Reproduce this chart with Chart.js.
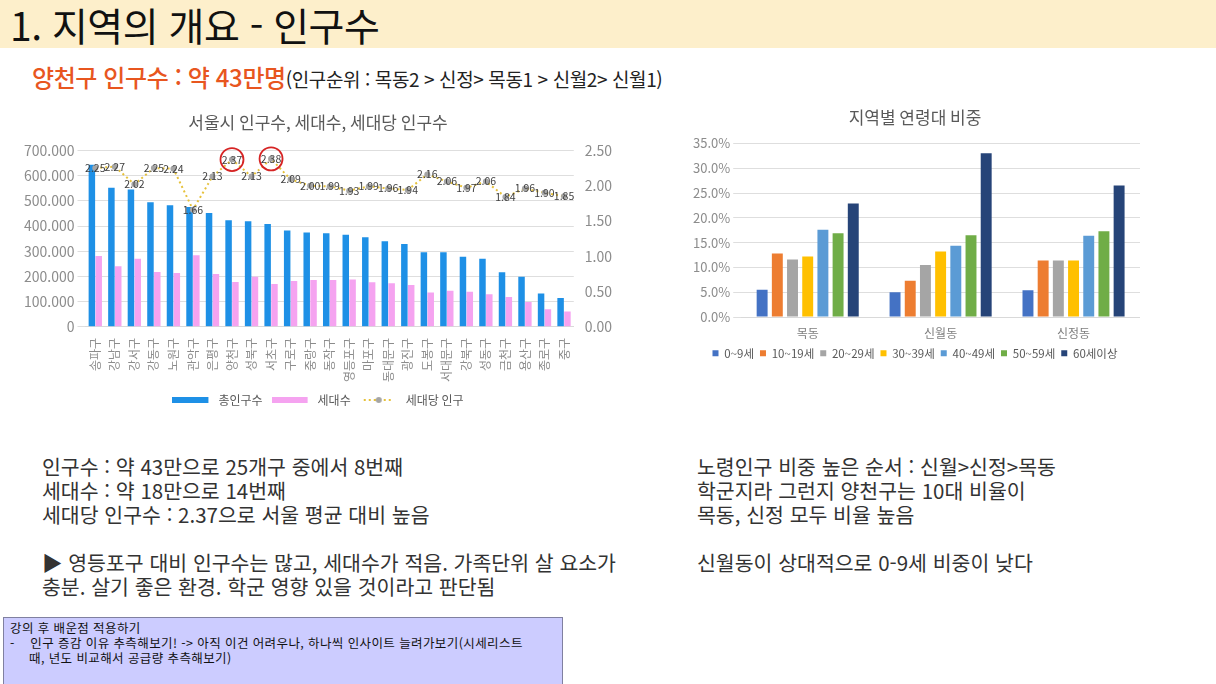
<!DOCTYPE html>
<html lang="ko">
<head>
<meta charset="utf-8">
<title>지역의 개요 - 인구수</title>
<script src="https://cdn.jsdelivr.net/npm/chart.js@4.4.1/dist/chart.umd.min.js"></script>
<style>
  html, body { margin: 0; padding: 0; background: #fff; }
  body { width: 1216px; height: 684px; position: relative; overflow: hidden;
         font-family: "Noto Sans CJK KR", "Noto Sans", sans-serif; }
  .header { position: absolute; left: 0; top: 0; width: 1216px; height: 48px; background: #fdefcb; }
  .header h1 { margin: 0; position: absolute; left: 10px; top: 0px; font-size: 39px; font-weight: 400;
               color: #111; letter-spacing: -0.5px; line-height: 48px; }
  .sub { position: absolute; left: 32px; top: 61px; white-space: nowrap; line-height: 32px; }
  .sub .big { color: #e8561f; font-size: 24px; font-weight: 500; letter-spacing: -0.4px; }
  .sub .small { color: #222; font-size: 19px; letter-spacing: -0.4px; }
  .box { position: absolute; }
  .txt { position: absolute; font-size: 20.5px; color: #333; line-height: 24px; white-space: nowrap; }
  .note { position: absolute; left: 3px; top: 617px; width: 558px; height: 70px; background: #ccccff;
          border: 1px solid #8080a0; font-size: 12.5px; color: #111; line-height: 15px; letter-spacing: 0.4px; white-space: nowrap; }
  .note p { margin: 0; }
</style>
</head>
<body>
<div class="header"><h1>1. 지역의 개요 - 인구수</h1></div>
<div class="sub"><span class="big">양천구 인구수 : 약 43만명</span><span class="small">(인구순위 : 목동2 &gt; 신정&gt; 목동1 &gt; 신월2&gt; 신월1)</span></div>

<div class="box" style="left:21px; top:112px; width:594px; height:304px;"><canvas id="seoulChart"></canvas></div>
<div class="box" style="left:690px; top:107px; width:450px; height:262px;"><canvas id="ageChart"></canvas></div>

<div class="txt" style="left:42px; top:454px;">
  인구수 : 약 43만으로 25개구 중에서 8번째<br>
  세대수 : 약 18만으로 14번째<br>
  세대당 인구수 : 2.37으로 서울 평균 대비 높음<br><br>
  ▶ 영등포구 대비 인구수는 많고, 세대수가 적음. 가족단위 살 요소가<br>
  충분. 살기 좋은 환경. 학군 영향 있을 것이라고 판단됨
</div>
<div class="txt" style="left:697px; top:454px;">
  노령인구 비중 높은 순서 : 신월&gt;신정&gt;목동<br>
  학군지라 그런지 양천구는 10대 비율이<br>
  목동, 신정 모두 비율 높음<br><br>
  신월동이 상대적으로 0-9세 비중이 낮다
</div>

<div class="note">
  <p style="padding:2px 0 0 6px;">강의 후 배운점 적용하기</p>
  <p style="padding-left:6px;">-&nbsp;&nbsp;&nbsp; 인구 증감 이유 추측해보기! -&gt; 아직 이건 어려우나, 하나씩 인사이트 늘려가보기(시세리스트</p>
  <p style="padding-left:25px;">때, 년도 비교해서 공급량 추측해보기)</p>
</div>

<script>
// 서울시 구별 인구 (인구순)
const districts = ['송파구', '강남구', '강서구', '강동구', '노원구', '관악구', '은평구', '양천구', '성북구', '서초구',
  '구로구', '중랑구', '동작구', '영등포구', '마포구', '동대문구', '광진구', '도봉구', '서대문구', '강북구',
  '성동구', '금천구', '용산구', '종로구', '중구'];
const population = [643000, 552000, 545000, 494000, 482000, 475000, 452000, 423000, 419000, 408000,
  382000, 374000, 371000, 365000, 355000, 340000, 329000, 296000, 296000, 278000,
  270000, 217000, 199000, 132000, 114000];
const households = [281000, 240000, 270000, 218000, 214000, 284000, 210000, 178000, 199000, 170000,
  182000, 186000, 186000, 188000, 177000, 173000, 166000, 136000, 143000, 139000,
  129000, 118000, 99000, 70000, 61000];
const perHousehold = [2.25, 2.27, 2.02, 2.25, 2.24, 1.66, 2.13, 2.37, 2.13, 2.38,
  2.09, 2.00, 1.99, 1.93, 1.99, 1.96, 1.94, 2.16, 2.06, 1.97,
  2.06, 1.84, 1.96, 1.90, 1.85];
const circled = [7, 9]; // 양천구, 서초구

// 지역별 연령대 비중 (%)
const dongs = ['목동', '신월동', '신정동'];
const ageGroups = ['0~9세', '10~19세', '20~29세', '30~39세', '40~49세', '50~59세', '60세이상'];
const ageShare = [
  [5.5, 5.0, 5.4],
  [12.8, 7.3, 11.4],
  [11.6, 10.5, 11.4],
  [12.2, 13.2, 11.4],
  [17.6, 14.4, 16.4],
  [16.9, 16.5, 17.3],
  [22.9, 33.0, 26.5]
];
const ageColors = ['#4472c4', '#ed7d31', '#a5a5a5', '#ffc000', '#5b9bd5', '#70ad47', '#264478'];

const FONT = '"Noto Sans CJK KR", "Noto Sans", sans-serif';
Chart.defaults.font.family = FONT;
Chart.defaults.color = '#7f7f7f';

function swatch(draw) {
  const c = document.createElement('canvas');
  c.width = 40; c.height = 10;
  draw(c.getContext('2d'));
  return c;
}
const swatches = [
  swatch(g => { g.fillStyle = '#1e90e6'; g.fillRect(0, 2, 36, 6); }),
  swatch(g => { g.fillStyle = '#f5a3f0'; g.fillRect(0, 2, 36, 6); }),
  swatch(g => {
    g.strokeStyle = '#e6c13a'; g.lineWidth = 2; g.setLineDash([2, 3]);
    g.beginPath(); g.moveTo(4, 5); g.lineTo(34, 5); g.stroke();
    g.fillStyle = '#a5a5a5'; g.beginPath(); g.arc(19, 5, 3, 0, Math.PI * 2); g.fill();
  })
];

const lineLabels = {
  id: 'lineLabels',
  afterDatasetsDraw(chart) {
    const ctx = chart.ctx;
    const meta = chart.getDatasetMeta(2);
    ctx.save();
    ctx.font = '10.5px ' + FONT;
    ctx.fillStyle = '#404040';
    ctx.textAlign = 'center';
    ctx.textBaseline = 'middle';
    meta.data.forEach((pt, i) => {
      ctx.fillText(perHousehold[i].toFixed(2), pt.x, pt.y);
      if (circled.includes(i)) {
        ctx.strokeStyle = '#d62424';
        ctx.lineWidth = 1.8;
        ctx.beginPath();
        ctx.arc(pt.x, pt.y, 11.5, 0, Math.PI * 2);
        ctx.stroke();
      }
    });
    ctx.restore();
  }
};

new Chart(document.getElementById('seoulChart'), {
  type: 'bar',
  data: {
    labels: districts,
    datasets: [
      { label: '총인구수', data: population, backgroundColor: '#1e90e6', yAxisID: 'y', order: 1,
        categoryPercentage: 0.7, barPercentage: 0.95 },
      { label: '세대수', data: households, backgroundColor: '#f5a3f0', yAxisID: 'y', order: 1,
        categoryPercentage: 0.7, barPercentage: 0.95 },
      { label: '세대당 인구', type: 'line', data: perHousehold, yAxisID: 'y1', order: 0,
        borderColor: '#e6c13a', borderWidth: 2, borderDash: [2, 3], fill: false,
        pointRadius: 2, pointBackgroundColor: '#a5a5a5', pointBorderColor: '#a5a5a5' }
    ]
  },
  options: {
    responsive: true,
    maintainAspectRatio: false,
    animation: false,
    plugins: {
      title: { display: true, text: '서울시 인구수, 세대수, 세대당 인구수', color: '#595959',
        font: { size: 17, weight: 'normal' }, padding: { top: 0, bottom: 18 } },
      legend: {
        position: 'bottom',
        labels: {
          usePointStyle: true, pointStyleWidth: 40, boxHeight: 10, padding: 9,
          color: '#595959', font: { size: 12 },
          sort: (a, b) => a.datasetIndex - b.datasetIndex,
          generateLabels(chart) {
            const items = Chart.defaults.plugins.legend.labels.generateLabels(chart);
            items.forEach(it => { it.pointStyle = swatches[it.datasetIndex]; });
            return items;
          }
        }
      },
      tooltip: { enabled: false }
    },
    scales: {
      x: {
        grid: { display: false },
        border: { color: '#d9d9d9' },
        ticks: { minRotation: 90, maxRotation: 90, autoSkip: false, font: { size: 12 }, color: '#8c8c8c', padding: 3 }
      },
      y: {
        min: 0, max: 700000,
        grid: { color: '#dedede' },
        border: { display: false },
        ticks: { stepSize: 100000, font: { size: 14 }, color: '#8c8c8c',
          callback: v => v === 0 ? '0' : v.toLocaleString('en-US').replace(/,/g, '.') }
      },
      y1: {
        position: 'right',
        min: 0, max: 2.5,
        grid: { drawOnChartArea: false, display: false },
        border: { display: false },
        ticks: { stepSize: 0.5, font: { size: 14 }, color: '#8c8c8c', callback: v => v.toFixed(2) }
      }
    }
  },
  plugins: [lineLabels]
});

new Chart(document.getElementById('ageChart'), {
  type: 'bar',
  data: {
    labels: dongs,
    datasets: ageGroups.map((g, i) => ({
      label: g, data: ageShare[i], backgroundColor: ageColors[i],
      categoryPercentage: 0.8, barPercentage: 0.72
    }))
  },
  options: {
    responsive: true,
    maintainAspectRatio: false,
    animation: false,
    plugins: {
      title: { display: true, text: '지역별 연령대 비중', color: '#595959',
        font: { size: 17, weight: 'normal' }, padding: { top: 0, bottom: 16 } },
      legend: {
        position: 'bottom',
        labels: { boxWidth: 6, boxHeight: 6, padding: 6, color: '#595959', font: { size: 11.5 } }
      },
      tooltip: { enabled: false }
    },
    scales: {
      x: {
        grid: { display: false },
        border: { color: '#d9d9d9' },
        ticks: { font: { size: 12 }, color: '#7f7f7f', padding: 1 }
      },
      y: {
        min: 0, max: 35,
        grid: { color: '#dedede' },
        border: { display: false },
        ticks: { stepSize: 5, font: { size: 13 }, color: '#8c8c8c', callback: v => v.toFixed(1) + '%' }
      }
    }
  }
});
</script>
</body>
</html>
